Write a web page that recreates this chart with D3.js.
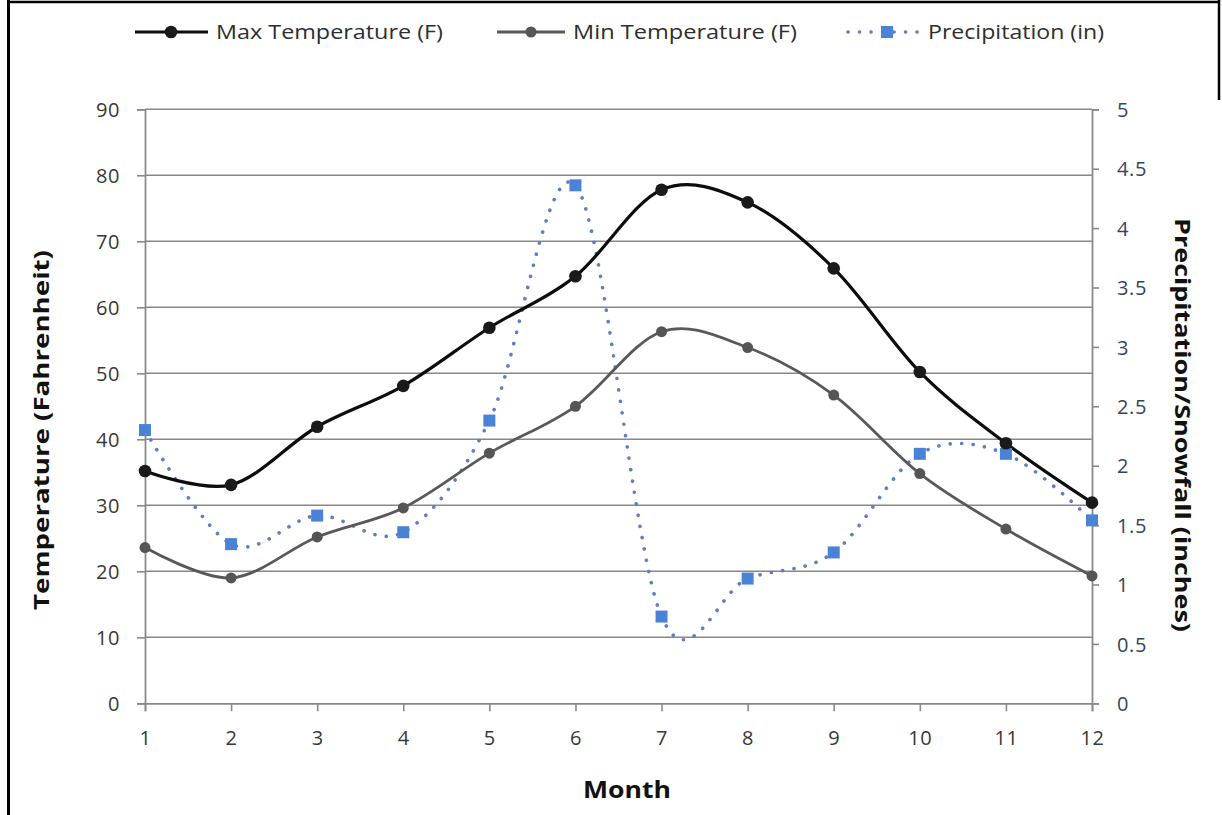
<!DOCTYPE html>
<html>
<head>
<meta charset="utf-8">
<script src="https://cdn.jsdelivr.net/npm/d3@7"></script>
<style>
  html, body { margin: 0; padding: 0; background: #ffffff; }
  svg { display: block; }
</style>
</head>
<body>
<svg id="chart" width="1222" height="815"></svg>
<script>
// Monthly climate values
const months = [1, 2, 3, 4, 5, 6, 7, 8, 9, 10, 11, 12];
const maxTemp = [35.2, 33.1, 41.9, 48.1, 56.9, 64.7, 77.8, 75.9, 65.9, 50.2, 39.4, 30.4];
const minTemp = [23.6, 19.0, 25.2, 29.6, 37.9, 45.0, 56.3, 53.9, 46.7, 34.8, 26.4, 19.3];
const precip = [2.30, 1.34, 1.58, 1.44, 2.38, 4.36, 0.73, 1.05, 1.27, 2.10, 2.10, 1.54];
const tempTicks = [0, 10, 20, 30, 40, 50, 60, 70, 80, 90];
const precipTicks = [0, 0.5, 1, 1.5, 2, 2.5, 3, 3.5, 4, 4.5, 5];
const legendNames = ["Max Temperature (F)", "Min Temperature (F)", "Precipitation (in)"];

const svg = d3.select("#chart");
const W = 1222, H = 815;
const plotLeft = 145, plotRight = 1092, plotTop = 109.3, plotBottom = 703.3;

const x = d3.scaleLinear().domain([1, 12]).range([plotLeft, plotRight]);
const yT = d3.scaleLinear().domain([0, 90]).range([plotBottom, plotTop]);
const yP = d3.scaleLinear().domain([0, 5]).range([plotBottom, plotTop]);

const gridColor = "#878787";
const axisColor = "#8a8a8a";
const tickFont = "'Open Sans', 'DejaVu Sans', sans-serif";
const titleFont = "'Open Sans', 'DejaVu Sans', sans-serif";

// outer frame
svg.append("line").attr("x1", 8.5).attr("x2", 8.5).attr("y1", 0).attr("y2", H)
  .attr("stroke", "#000").attr("stroke-width", 3);
svg.append("line").attr("x1", 7).attr("x2", 1220).attr("y1", 2).attr("y2", 2)
  .attr("stroke", "#000").attr("stroke-width", 2.5);
svg.append("line").attr("x1", 1219).attr("x2", 1219).attr("y1", 0).attr("y2", 100)
  .attr("stroke", "#000").attr("stroke-width", 2.5);

// horizontal gridlines
svg.append("g").selectAll("line").data(tempTicks.filter(d => d > 0)).join("line")
  .attr("x1", plotLeft).attr("x2", plotRight)
  .attr("y1", d => yT(d)).attr("y2", d => yT(d))
  .attr("stroke", gridColor).attr("stroke-width", 1.6);

// left axis
const gL = svg.append("g").attr("transform", `translate(${plotLeft},0)`)
  .call(d3.axisLeft(yT).tickValues(tempTicks).tickSize(8).tickPadding(17).tickFormat(d3.format("d")));
// right axis
const gR = svg.append("g").attr("transform", `translate(${plotRight},0)`)
  .call(d3.axisRight(yP).tickValues(precipTicks).tickSize(7).tickPadding(18).tickFormat(d => String(d)));
// bottom axis
const gB = svg.append("g").attr("transform", `translate(0,${plotBottom})`)
  .call(d3.axisBottom(x).tickValues(months).tickSize(8).tickPadding(18).tickFormat(d3.format("d")));

[gL, gR, gB].forEach(g => {
  g.select(".domain").attr("stroke", axisColor).attr("stroke-width", 1.8);
  g.selectAll(".tick line").attr("stroke", axisColor).attr("stroke-width", 1.6);
  g.selectAll(".tick text").attr("fill", "#383838")
    .style("font-family", tickFont).style("font-size", "20px").style("letter-spacing", "0.6px");
});
gL.selectAll(".tick text").attr("dy", "0.36em");
gR.selectAll(".tick text").attr("dy", "0.36em").attr("fill", "#36445e");
gB.selectAll(".tick text").attr("dy", "0.71em").attr("y", 28);

// axis titles
svg.append("text")
  .attr("transform", `translate(49,${(250 + 610) / 2}) rotate(-90)`)
  .attr("text-anchor", "middle")
  .attr("textLength", 360).attr("lengthAdjust", "spacingAndGlyphs")
  .style("font-family", titleFont).style("font-weight", "bold").style("font-size", "22px")
  .attr("fill", "#111").text("Temperature (Fahrenheit)");

svg.append("text")
  .attr("transform", `translate(1175,${(218 + 632) / 2}) rotate(90)`)
  .attr("text-anchor", "middle")
  .attr("textLength", 414).attr("lengthAdjust", "spacingAndGlyphs")
  .style("font-family", titleFont).style("font-weight", "bold").style("font-size", "22px")
  .attr("fill", "#111").text("Precipitation/Snowfall (inches)");

svg.append("text")
  .attr("x", 627).attr("y", 798)
  .attr("text-anchor", "middle")
  .attr("textLength", 88).attr("lengthAdjust", "spacingAndGlyphs")
  .style("font-family", titleFont).style("font-weight", "bold").style("font-size", "23px")
  .attr("fill", "#111").text("Month");

// series
const curve = d3.curveCardinal.tension(0);
const lineT = d3.line().x((d, i) => x(months[i])).y(d => yT(d)).curve(curve);
const lineP = d3.line().x((d, i) => x(months[i])).y(d => yP(d)).curve(curve);

const precipDots = "0.1 11.4";
const precipLineColor = "#5f7cc6";
const precipMarkColor = "#4a82d6";

svg.append("path").datum(precip).attr("d", lineP)
  .attr("fill", "none").attr("stroke", precipLineColor).attr("stroke-width", 3.6)
  .attr("stroke-linecap", "round").attr("stroke-dasharray", precipDots);

svg.append("path").datum(minTemp).attr("d", lineT)
  .attr("fill", "none").attr("stroke", "#595959").attr("stroke-width", 2.8);
svg.append("path").datum(maxTemp).attr("d", lineT)
  .attr("fill", "none").attr("stroke", "#0d0d0d").attr("stroke-width", 3.2);

svg.append("g").selectAll("rect").data(precip).join("rect")
  .attr("x", (d, i) => x(months[i]) - 6).attr("y", d => yP(d) - 6)
  .attr("width", 12).attr("height", 12).attr("fill", precipMarkColor);

svg.append("g").selectAll("circle").data(minTemp).join("circle")
  .attr("cx", (d, i) => x(months[i])).attr("cy", d => yT(d)).attr("r", 5.5)
  .attr("fill", "#555555");
svg.append("g").selectAll("circle").data(maxTemp).join("circle")
  .attr("cx", (d, i) => x(months[i])).attr("cy", d => yT(d)).attr("r", 6.3)
  .attr("fill", "#1a1a1a");

// legend
const legY = 32;
const legend = svg.append("g");
const legendFont = "'Open Sans', 'DejaVu Sans', sans-serif";
// max
legend.append("line").attr("x1", 135).attr("x2", 208).attr("y1", legY).attr("y2", legY)
  .attr("stroke", "#0d0d0d").attr("stroke-width", 3.2);
legend.append("circle").attr("cx", 171).attr("cy", legY).attr("r", 6.3).attr("fill", "#1a1a1a");
// min
legend.append("line").attr("x1", 497).attr("x2", 565).attr("y1", legY).attr("y2", legY)
  .attr("stroke", "#595959").attr("stroke-width", 2.8);
legend.append("circle").attr("cx", 531).attr("cy", legY).attr("r", 5.5).attr("fill", "#555555");
// precipitation
legend.append("line").attr("x1", 848).attr("x2", 918).attr("y1", legY).attr("y2", legY)
  .attr("stroke", precipLineColor).attr("stroke-width", 3.6)
  .attr("stroke-linecap", "round").attr("stroke-dasharray", precipDots);
legend.append("rect").attr("x", 881).attr("y", legY - 6).attr("width", 12).attr("height", 12)
  .attr("fill", precipMarkColor);

const legText = [
  { x: 216, len: 227 },
  { x: 573, len: 224 },
  { x: 928, len: 176 }
];
legend.selectAll("text").data(legendNames).join("text")
  .attr("x", (d, i) => legText[i].x).attr("y", legY + 7)
  .attr("textLength", (d, i) => legText[i].len).attr("lengthAdjust", "spacingAndGlyphs")
  .style("font-family", legendFont).style("font-size", "20px")
  .attr("fill", "#2e2e2e").text(d => d);
</script>
</body>
</html>
